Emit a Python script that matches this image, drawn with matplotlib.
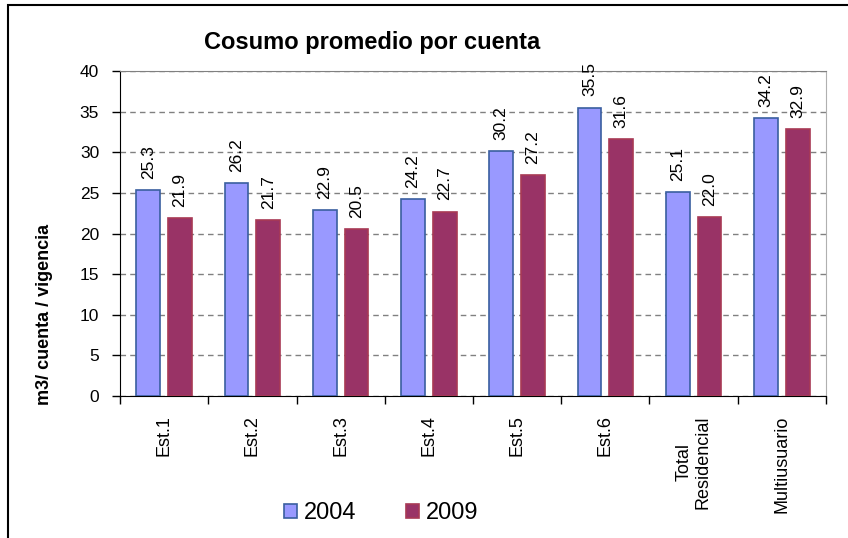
import matplotlib
matplotlib.use("Agg")
import matplotlib.pyplot as plt
from matplotlib.patches import Rectangle
import numpy as np

categories = ["Est.1", "Est.2", "Est.3", "Est.4", "Est.5", "Est.6",
              "Total\nResidencial", "Multiusuario"]
values_2004 = [25.3, 26.2, 22.9, 24.2, 30.2, 35.5, 25.1, 34.2]
values_2009 = [21.9, 21.7, 20.5, 22.7, 27.2, 31.6, 22.0, 32.9]
series_labels = ["2004", "2009"]

plt.rcParams["font.family"] = ["Liberation Sans", "DejaVu Sans"]

fig = plt.figure(figsize=(8.48, 5.38), dpi=100)
ax = fig.add_axes([120 / 848, 1 - 396 / 538, 706 / 848, 325 / 538])

x = np.arange(len(categories)) + 0.5
w = 0.27
off = 0.18
b1 = ax.bar(x - off, values_2004, w, color="#9999ff", edgecolor="#3a5fa0",
            linewidth=1.2, label=series_labels[0], zorder=3)
b2 = ax.bar(x + off, values_2009, w, color="#993366", edgecolor="#a83a55",
            linewidth=1.2, label=series_labels[1], zorder=3)

for bars, vals in ((b1, values_2004), (b2, values_2009)):
    for rect, v in zip(bars, vals):
        ax.annotate(f"{v:.1f}", (rect.get_x() + rect.get_width() / 2, v),
                    xytext=(0, 8), textcoords="offset points",
                    rotation=90, ha="center", va="bottom", fontsize=12.5)

ax.set_xlim(0, len(categories))
ax.set_ylim(0, 40)
ax.set_yticks(range(0, 41, 5))
ax.tick_params(axis="y", labelsize=12.5, length=6, width=1, pad=9, direction="out")
ax.set_xticks(x)
ax.set_xticklabels(categories, rotation=90, fontsize=13)
ax.tick_params(axis="x", which="major", length=0, pad=14)
ax.set_xticks(np.arange(len(categories) + 1), minor=True)
ax.tick_params(axis="x", which="minor", length=6, width=1, direction="out")

ax.yaxis.grid(True, linestyle=(0, (4, 3)), color="#808080", linewidth=1, zorder=0)
ax.set_axisbelow(True)
ax.spines["left"].set_color("black")
ax.spines["bottom"].set_color("black")
ax.spines["top"].set_color("#808080")
ax.spines["right"].set_color("#b0b0b0")

fig.text(45 / 848, 1 - 314 / 538, "m3/ cuenta / vigencia", rotation=90,
         ha="center", va="center", fontsize=13, fontweight="bold")

fig.text(372 / 848, 1 - 43 / 538, "Cosumo promedio por cuenta",
         ha="center", va="center", fontsize=17, fontweight="bold")

fig.legend(handles=[b1, b2], labels=series_labels, loc="center",
           bbox_to_anchor=(381 / 848, 1 - 513 / 538), ncol=2, frameon=False,
           fontsize=17, handlelength=0.55, handleheight=0.55,
           handletextpad=0.3, columnspacing=2.1)

fig.patches.append(Rectangle((8 / 848, -0.02), 1.05, 1 - 5 / 538 + 0.02,
                             transform=fig.transFigure, fill=False,
                             edgecolor="black", linewidth=1.5))

fig.savefig("out.png", dpi=100)
